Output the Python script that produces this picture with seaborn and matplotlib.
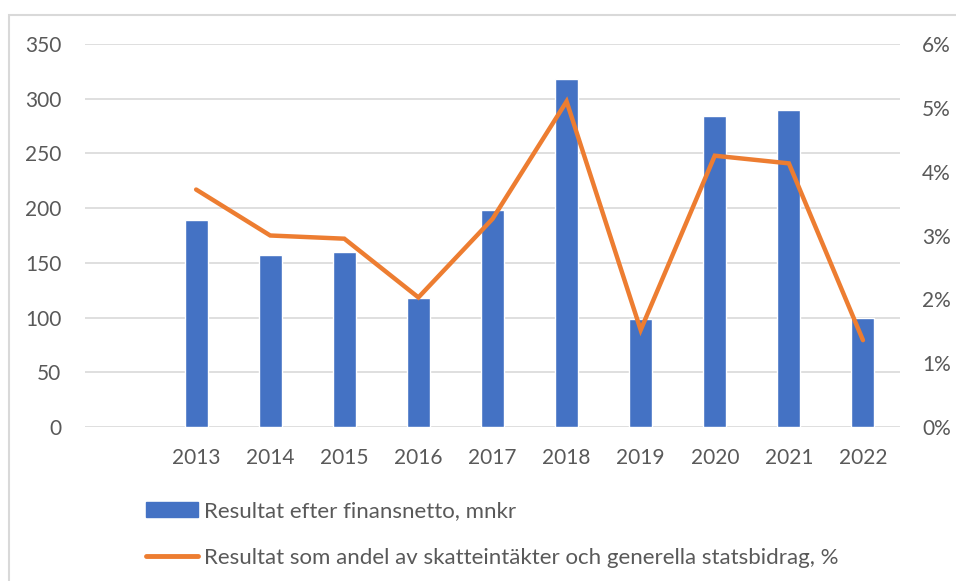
import matplotlib
matplotlib.use("Agg")
import matplotlib.pyplot as plt
import seaborn as sns
import numpy as np
import pandas as pd
from matplotlib.patches import Rectangle
from matplotlib.lines import Line2D
from matplotlib.patches import Patch

years = ["2013", "2014", "2015", "2016", "2017", "2018", "2019", "2020", "2021", "2022"]
resultat_mnkr = [189, 157, 160, 118, 198, 318, 99, 284, 290, 100]
andel_pct = [3.72, 3.00, 2.95, 2.03, 3.26, 5.10, 1.52, 4.25, 4.13, 1.36]
left_ticks = [0, 50, 100, 150, 200, 250, 300, 350]
right_ticks = [0, 1, 2, 3, 4, 5, 6]
bar_label = "Resultat efter finansnetto, mnkr"
line_label = "Resultat som andel av skatteintäkter och generella statsbidrag, %"

BLUE = "#4472C4"
ORANGE = "#ED7D31"
GRID = "#D9D9D9"
TXT = "#595959"

sns.set_theme(style="white")
plt.rcParams["font.family"] = ["Lato", "DejaVu Sans"]

fig = plt.figure(figsize=(9.56, 5.81), dpi=100)
ax = fig.add_axes([85/956, 1-427/581, (900-85)/956, (427-44)/581])

order = [""] + years
df = pd.DataFrame({"year": years, "val": resultat_mnkr})
sns.barplot(data=df, x="year", y="val", order=order, color=BLUE, width=0.31,
            saturation=1, ax=ax, zorder=2)
ax.set_xlim(-0.5, len(order) - 0.5)
ax.set_ylim(0, 350)
ax.set_yticks(left_ticks)
ax.set_yticklabels([str(t) for t in left_ticks])
ax.set_xlabel("")
ax.set_ylabel("")
for s in ax.spines.values():
    s.set_visible(False)
ax.grid(axis="y", color=GRID, lw=1.2, zorder=0)
ax.set_axisbelow(True)
ax.tick_params(axis="y", length=0, pad=17, labelsize=15, labelcolor=TXT)
ax.tick_params(axis="x", length=0, pad=15, labelsize=15, labelcolor=TXT)

ax2 = ax.twinx()
sns.lineplot(x=np.arange(1, len(years) + 1), y=andel_pct, color=ORANGE, lw=3.2,
             sort=False, ax=ax2, solid_capstyle="round", solid_joinstyle="miter")
ax2.set_ylim(0, 6)
ax2.set_yticks(right_ticks)
ax2.set_yticklabels([f"{t}%" for t in right_ticks])
ax2.set_xlim(-0.5, len(order) - 0.5)
for s in ax2.spines.values():
    s.set_visible(False)
ax2.grid(False)
ax2.tick_params(axis="y", length=0, pad=16, labelsize=15, labelcolor=TXT)

# outer chart border
fig.patches.append(Rectangle((9/956, -0.1), 1.2, 1 - 15/581 + 0.1, transform=fig.transFigure,
                             fill=False, edgecolor=GRID, lw=1.5))

handles = [Patch(facecolor=BLUE, edgecolor=BLUE),
           Line2D([0], [0], color=ORANGE, lw=3.5, solid_capstyle="round")]
leg = fig.legend(handles, [bar_label, line_label], loc="upper left",
                 bbox_to_anchor=(146/956, 1-501/581), frameon=False,
                 fontsize=16, labelcolor=TXT, handlelength=2.35, handletextpad=0.27,
                 handleheight=0.65, labelspacing=1.2, borderaxespad=0, borderpad=0)

fig.savefig("out.png", dpi=100)
